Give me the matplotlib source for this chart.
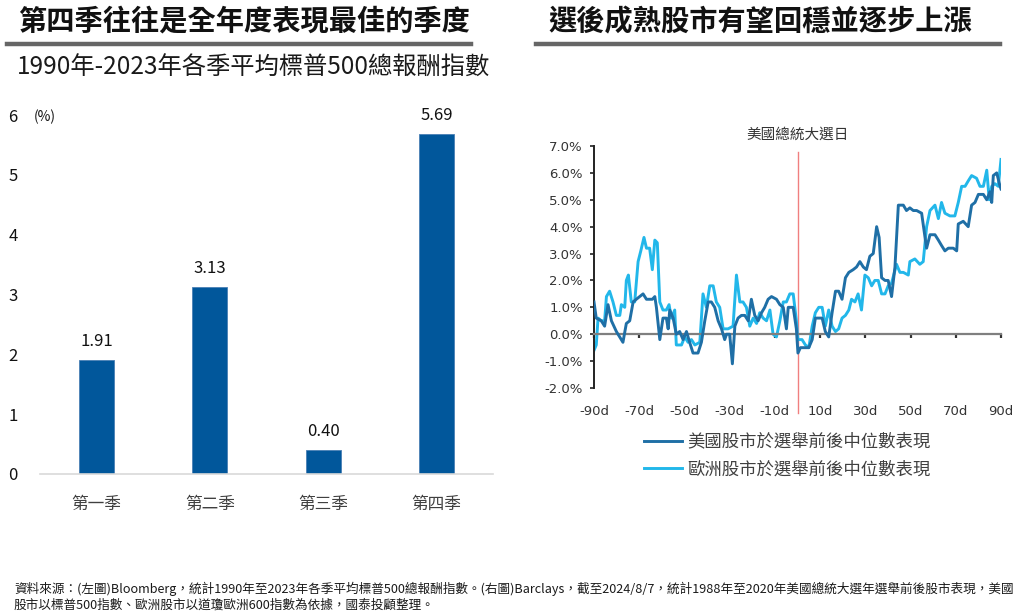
import matplotlib
matplotlib.use("Agg")
import matplotlib.pyplot as plt
from matplotlib.lines import Line2D

plt.rcParams['font.family'] = ['Noto Sans CJK TC', 'DejaVu Sans']

# === Daten: linkes Diagramm (Quartale) ===
quartale = ['第一季', '第二季', '第三季', '第四季']
rendite = [1.91, 3.13, 0.40, 5.69]

# === Daten: rechtes Diagramm (Tage um die Wahl, Median in %) ===
us_tage = [-90, -89, -86.8, -85.3, -83.8, -82.3, -80.1, -77.2, -75.7, -74.2, -72.7, -71.3,
           -68.3, -66.8, -64.2, -63.1, -62.4, -60.9, -59.5, -58.0, -57.2, -56.5, -55.0,
           -53.6, -52.1, -50.6, -49.1, -47.7, -46.2, -44.0, -42.5, -41.0, -39.5, -38.1,
           -36.6, -35.1, -33.6, -32.2, -31.4, -30.0, -28.8, -27.7, -26.3, -24.8, -23.3,
           -21.8, -20.4, -18.9, -17.4, -15.9, -14.5, -13.0, -11.5, -9.3, -7.8, -6.3, -4.9,
           -4.1, -1.9, -0.5, 0.2, 1.3, 3.5, 5.0, 6.5, 7.9, 10.9, 12.3, 13.8, 15.3, 16.8,
           18.2, 19.7, 21.2, 22.7, 24.6, 26.1, 27.6, 29.1, 30.5, 32.0, 33.5, 35.0, 36.1,
           37.2, 38.7, 40.1, 41.6, 43.1, 44.6, 46.8, 48.2, 49.7, 51.2, 52.7, 54.9, 56.4,
           57.1, 58.6, 60.8, 62.3, 63.7, 65.2, 66.7, 68.9, 70.4, 71.1, 73.3, 75.5, 77.0,
           78.5, 80.0, 82.2, 83.7, 85.1, 85.9, 86.6, 88.1, 89.6, 90]
us_werte = [1.2, 0.6, 0.5, 0.3, 1.1, 0.5, 0.1, -0.3, 0.4, 0.5, 1.2, 1.3,
            1.5, 1.3, 1.3, 1.4, 1.0, -0.2, 0.6, 0.6, 0.2, 0.9, 0.6,
            0.0, 0.1, -0.2, 0.1, -0.3, -0.7, -0.7, -0.3, 0.5, 1.2, 1.2,
            1.0, 0.5, 0.2, -0.2, 0.0, 0.0, -1.1, 0.3, 0.6, 0.7, 0.7,
            0.5, 1.3, 0.7, 0.5, 0.8, 1.0, 1.3, 1.4, 1.3, 1.1, 1.0, 0.2,
            1.0, 1.0, 0.2, -0.7, -0.5, -0.5, -0.5, -0.2, 0.6, 0.6, 0.1, -0.1, 0.8, 1.6,
            1.6, 1.3, 2.1, 2.3, 2.4, 2.5, 2.7, 2.5, 2.4, 2.9, 3.0, 4.0, 3.6,
            2.1, 2.0, 2.0, 1.4, 2.5, 4.8, 4.8, 4.6, 4.7, 4.6, 4.6, 4.5, 3.6,
            3.2, 3.7, 3.7, 3.5, 3.3, 3.1, 3.2, 3.2, 3.1, 4.1, 4.2, 4.0, 4.8,
            4.9, 5.2, 5.2, 5.0, 5.3, 4.9, 5.9, 6.0, 5.5, 5.4]

eu_tage = [-90, -89, -88.2, -86.8, -85.3, -84.5, -83.1, -81.6, -80.1, -78.6, -77.9, -76.4,
           -75.7, -74.8, -73.5, -72.0, -70.5, -69.3, -67.9, -66.8, -65.4, -64.2, -63.1,
           -62.0, -60.9, -59.5, -58.0, -56.8, -55.8, -54.3, -53.6, -51.3, -49.9, -48.4,
           -46.9, -45.4, -43.2, -41.8, -40.3, -38.8, -37.3, -35.9, -34.4, -32.9, -30.7,
           -28.5, -27.0, -25.5, -24.1, -22.6, -21.1, -19.6, -18.1, -16.7, -15.2, -13.7,
           -12.2, -10.8, -9.3, -7.8, -6.3, -4.9, -3.4, -1.9, -0.5, 0.2, 2.0, 3.5, 5.0,
           6.5, 7.9, 9.4, 10.9, 12.3, 13.8, 15.3, 16.8, 18.2, 19.7, 21.2, 22.7, 23.9,
           25.4, 26.8, 28.3, 29.8, 31.3, 32.8, 34.2, 35.7, 37.2, 38.7, 40.1, 41.6, 43.8,
           45.3, 46.8, 49.0, 49.7, 51.9, 54.1, 55.6, 57.1, 58.6, 60.8, 62.3, 63.7, 65.2,
           67.4, 69.6, 71.1, 72.6, 74.1, 75.5, 77.0, 79.2, 80.7, 82.2, 83.7, 84.8, 85.9,
           87.3, 88.8, 90]
eu_werte = [-0.6, -0.4, 0.6, 0.5, 0.5, 1.4, 1.6, 1.2, 0.7, 0.7, 1.1, 1.0,
            2.0, 2.2, 1.2, 1.2, 2.7, 3.1, 3.6, 3.2, 3.2, 2.4, 3.5,
            3.4, 1.2, 0.9, 0.9, 1.1, 0.6, 0.9, -0.4, -0.4, -0.1, -0.3,
            -0.2, -0.4, -0.3, 1.5, 1.0, 1.8, 1.8, 1.2, 1.0, 0.2, 0.2,
            0.3, 2.2, 1.2, 1.2, 1.0, 0.3, 0.6, 0.4, 0.8, 0.6, 0.5,
            0.9, 0.0, -0.1, 0.5, 1.2, 1.2, 1.5, 1.5, 0.5, -0.2, -0.2, -0.4, -0.5,
            0.3, 0.8, 1.0, 1.0, 0.3, 0.9, 0.3, 0.1, 0.2, 0.6, 0.7, 0.9, 1.3,
            1.2, 1.5, 0.9, 2.2, 2.1, 1.8, 2.0, 2.0, 1.5, 1.5, 1.8, 1.9, 2.6,
            2.3, 2.3, 2.2, 2.7, 2.8, 2.6, 2.7, 4.0, 4.6, 4.8, 4.3, 4.9, 4.5,
            4.4, 4.4, 4.9, 5.5, 5.5, 5.7, 5.9, 5.8, 5.5, 5.5, 6.1, 5.0, 5.5,
            5.6, 5.5, 6.5]

tage_ticks = [-90, -70, -50, -30, -10, 10, 30, 50, 70, 90]
prozent_ticks = [7, 6, 5, 4, 3, 2, 1, 0, -1, -2]

quelle_1 = ("資料來源：(左圖)Bloomberg，統計1990年至2023年各季平均標普500總報酬指數。(右圖)Barclays，"
            "截至2024/8/7，統計1988年至2020年美國總統大選年選舉前後股市表現，美國")
quelle_2 = "股市以標普500指數、歐洲股市以道瓊歐洲600指數為依據，國泰投顧整理。"

W, H = 1024, 615
fig = plt.figure(figsize=(W / 100, H / 100), dpi=100)


def px(x, y):
    """Pixel (oben links) -> Figure-Koordinaten."""
    return x / W, 1 - y / H


# === Titel und Unterstreichungen ===
fig.text(*px(18, 22), '第四季往往是全年度表現最佳的季度', fontsize=20.3, weight='bold',
         va='center', ha='left', color='#111111')
fig.text(*px(548, 22), '選後成熟股市有望回穩並逐步上漲', fontsize=20.3, weight='bold',
         va='center', ha='left', color='#111111')
for x0, x1 in [(7, 471), (536, 1000)]:
    fig.add_artist(Line2D([x0 / W, x1 / W], [1 - 43.5 / H, 1 - 43.5 / H],
                          color='#666666', lw=3.2, transform=fig.transFigure))
fig.text(*px(17, 68), '1990年-2023年各季平均標普500總報酬指數', fontsize=17.5,
         va='center', ha='left', color='#1a1a1a')

# === Linkes Diagramm: Balken ===
ax1 = fig.add_axes([40 / W, 1 - 474 / H, 453 / W, 359 / H])
pos = range(len(quartale))
balken = ax1.bar(pos, rendite, width=0.31, color='#01579B', edgecolor='#4a7fb5', linewidth=0.6)
for b, v in zip(balken, rendite):
    ax1.annotate(f'{v:.2f}', (b.get_x() + b.get_width() / 2, v), xytext=(0, 7),
                 textcoords='offset points', ha='center', va='bottom', fontsize=12, color='#111111')
ax1.set_xlim(-0.5, 3.5)
ax1.set_ylim(0, 6)
ax1.set_yticks(range(0, 7))
ax1.set_xticks(list(pos))
ax1.set_xticklabels(quartale)
ax1.tick_params(axis='y', length=0, pad=16, labelsize=12, labelcolor='#111111')
ax1.tick_params(axis='x', length=0, pad=16, labelsize=12, labelcolor='#404040')
for s in ['top', 'right', 'left']:
    ax1.spines[s].set_visible(False)
ax1.spines['bottom'].set_color('#d9d9d9')
ax1.spines['bottom'].set_linewidth(1.2)
fig.text(*px(34, 117), '(%)', fontsize=10, va='center', ha='left', color='#111111')

# === Rechtes Diagramm: Linien ===
ax2 = fig.add_axes([594 / W, 1 - 388 / H, 407 / W, 242 / H])
ax2.plot(us_tage, us_werte, color='#1f6fa6', lw=2.1, label='美國股市於選舉前後中位數表現', zorder=3)
ax2.plot(eu_tage, eu_werte, color='#22b7ea', lw=2.1, label='歐洲股市於選舉前後中位數表現', zorder=2)
ax2.set_xlim(-90, 90)
ax2.set_ylim(-2, 7)
ax2.set_yticks(prozent_ticks)
ax2.set_yticklabels([f'{v:.1f}%' for v in prozent_ticks], family='DejaVu Sans')
ax2.tick_params(axis='y', direction='out', length=3, width=1.2, pad=5,
                labelsize=9.5, labelcolor='#333333', color='#222222')
for s in ['top', 'right']:
    ax2.spines[s].set_visible(False)
ax2.spines['left'].set_color('#222222')
ax2.spines['left'].set_linewidth(1.4)
ax2.spines['bottom'].set_position(('data', 0))
ax2.spines['bottom'].set_color('#7f7f7f')
ax2.spines['bottom'].set_linewidth(1.6)
ax2.set_xticks(tage_ticks)
ax2.tick_params(axis='x', direction='out', length=3, width=1.6, color='#333333', labelbottom=False)

sek = ax2.secondary_xaxis('bottom')
sek.set_xticks(tage_ticks)
sek.set_xticklabels([f'{t}d' for t in tage_ticks], family='DejaVu Sans')
sek.tick_params(length=0, pad=12, labelsize=9.5, labelcolor='#333333')
sek.spines['bottom'].set_visible(False)

ax2.axvline(0, ymin=-0.105, ymax=0.975, color='#f07f7f', lw=1, clip_on=False, zorder=1)
ax2.text(0, 1.045, '美國總統大選日', transform=ax2.get_xaxis_transform(), ha='center',
         va='center', fontsize=10.5, color='#333333')

fig.legend(loc='upper left', bbox_to_anchor=px(628, 417), frameon=False, fontsize=12.5,
           handlelength=2.2, handletextpad=0.3, labelspacing=0.55, labelcolor='#404040')

# === Quellenangabe ===
fig.text(*px(14, 589), quelle_1, fontsize=9.1, va='center', ha='left', color='#1a1a1a')
fig.text(*px(14, 605), quelle_2, fontsize=9.1, va='center', ha='left', color='#1a1a1a')

fig.savefig('out.png', dpi=100)
